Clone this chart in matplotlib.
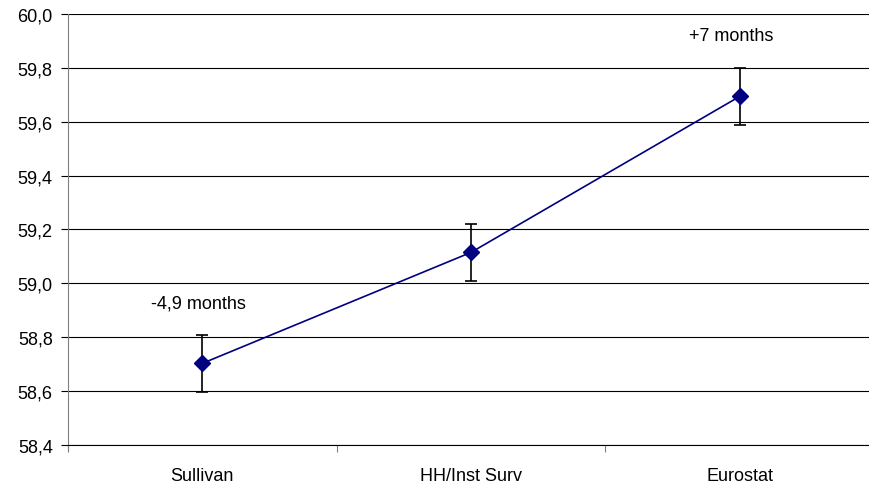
import numpy as np
import matplotlib
matplotlib.use('Agg')
import matplotlib.pyplot as plt
from matplotlib.ticker import FixedLocator, FuncFormatter

plt.rcParams['font.family'] = ['Liberation Sans', 'DejaVu Sans']

# data
categories = ['Sullivan', 'HH/Inst Surv', 'Eurostat']
values = [58.703, 59.115, 59.694]
errors = [0.107, 0.107, 0.107]
notes = ['-4,9 months', '', '+7 months']
y_ticks = [58.4, 58.6, 58.8, 59.0, 59.2, 59.4, 59.6, 59.8, 60.0]

fig = plt.figure(figsize=(8.69, 4.85), dpi=100)
# plot area runs off the right edge like in the original
ax = fig.add_axes([68 / 869, 39 / 485, 806 / 869, 431 / 485])

x = np.arange(len(categories))
ax.errorbar(x, values, yerr=errors, fmt='none', ecolor='black',
            elinewidth=1.2, capsize=4.5, capthick=1.2, zorder=3)
ax.plot(x, values, color='#000080', lw=1.2, marker='D', markersize=8.5,
        markerfacecolor='#000080', markeredgecolor='#000080', zorder=4)

for i, note in enumerate(notes):
    if note:
        ax.text(i - 0.19, values[i] + 0.225, note, fontsize=13,
                ha='left', va='center')

ax.set_xlim(-0.5, 2.5)
ax.set_ylim(58.4, 60.0)

ax.yaxis.set_major_locator(FixedLocator(y_ticks))
ax.yaxis.set_major_formatter(FuncFormatter(lambda v, p: ('%.1f' % v).replace('.', ',')))
ax.grid(axis='y', color='black', lw=0.8)
ax.set_axisbelow(True)

# boundary ticks without labels, category names in between
ax.set_xticks([-0.5, 0.5, 1.5, 2.5])
ax.set_xticklabels([])
ax.set_xticks(x, minor=True)
ax.set_xticklabels(categories, minor=True)
ax.tick_params(axis='x', which='major', length=5, color='#808080', direction='out')
ax.tick_params(axis='x', which='minor', length=0, pad=16, labelsize=13)
ax.tick_params(axis='y', length=5, color='black', pad=6, labelsize=13)

for s in ['top', 'right']:
    ax.spines[s].set_visible(False)
ax.spines['left'].set_color('#808080')
ax.spines['left'].set_bounds(58.4 - 0.02, 60.0)
ax.spines['bottom'].set_color('black')
ax.spines['bottom'].set_linewidth(0.8)

fig.savefig('out.png', dpi=100)
